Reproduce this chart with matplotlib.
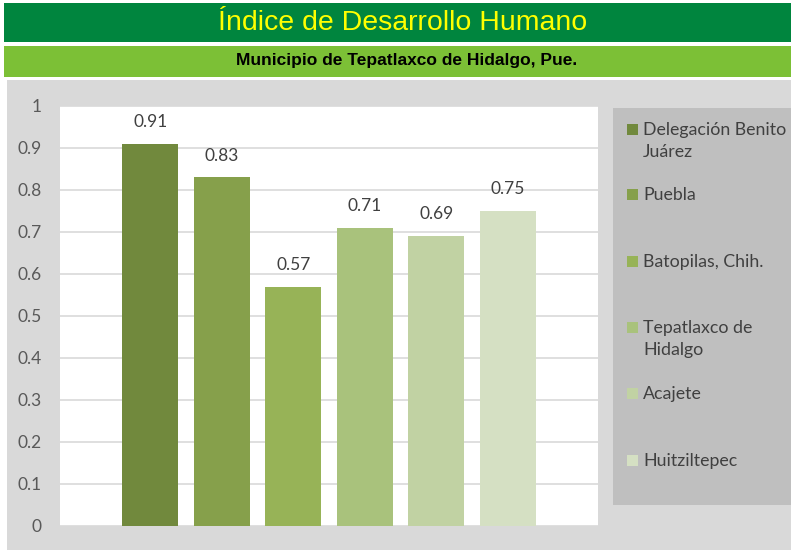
import matplotlib.pyplot as plt
from matplotlib.patches import Rectangle

# datos
municipios = ["Delegación Benito\nJuárez", "Puebla", "Batopilas, Chih.",
              "Tepatlaxco de\nHidalgo", "Acajete", "Huitziltepec"]
idh = [0.91, 0.83, 0.57, 0.71, 0.69, 0.75]
colores = ["#71893d", "#86a04b", "#97b357", "#a9c27c", "#c1d2a3", "#d5e0c3"]
yticks = [0, 0.1, 0.2, 0.3, 0.4, 0.5, 0.6, 0.7, 0.8, 0.9, 1]

W, H = 791, 550
fig = plt.figure(figsize=(W / 100, H / 100), dpi=100)
fig.patch.set_facecolor("white")

def caja(x0, y0, x1, y1, color):
    # coordenadas en pixeles, y desde arriba
    fig.patches.append(Rectangle((x0 / W, 1 - y1 / H), (x1 - x0) / W, (y1 - y0) / H,
                                 transform=fig.transFigure, facecolor=color,
                                 edgecolor="none", zorder=0))

caja(4, 3, 791, 42, "#00853e")
caja(4, 46, 791, 77, "#7cc036")
caja(7, 80, 791, 550, "#d9d9d9")
caja(613, 108, 791, 505, "#bfbfbf")

narrow = ["Liberation Sans Narrow", "Liberation Sans", "DejaVu Sans"]
fig.text(403 / W, 1 - 23 / H, "Índice de Desarrollo Humano", ha="center", va="center",
         color="#ffff00", fontsize=20.5, family=narrow)
fig.text(407 / W, 1 - 61 / H, "Municipio de Tepatlaxco de Hidalgo, Pue.", ha="center",
         va="center", color="black", fontsize=12.5, fontweight="bold", family=narrow)

ax = fig.add_axes([60 / W, 1 - 526 / H, (598 - 60) / W, (526 - 106) / H])
ax.set_zorder(5)
ax.set_facecolor("white")
x = range(len(idh))
ax.bar(x, idh, width=0.78, color=colores, zorder=3)
ax.set_xlim(-1.26, len(idh) - 1 + 1.26)
ax.set_ylim(0, 1)
ax.set_yticks(yticks)
ax.set_yticklabels([f"{v:g}" for v in yticks])
ax.grid(axis="y", color="#d9d9d9", linewidth=1.2, zorder=0)
ax.set_xticks([])
for s in ax.spines.values():
    s.set_visible(False)
ax.tick_params(axis="y", length=0, pad=13, labelsize=12.5, labelcolor="#595959")
for lab in ax.get_yticklabels():
    lab.set_family(["Lato", "DejaVu Sans"])

for i, v in enumerate(idh):
    ax.annotate(f"{v:g}", (i, v), xytext=(0, 10), textcoords="offset points",
                ha="center", va="bottom", fontsize=12.5, color="#404040",
                family=["Lato", "DejaVu Sans"])

# leyenda
ys = [130, 195, 262, 328, 394, 461]
for nombre, c, y in zip(municipios, colores, ys):
    fig.patches.append(Rectangle((627 / W, 1 - (y + 5) / H), 11 / W, 11 / H,
                                 transform=fig.transFigure, facecolor=c,
                                 edgecolor="none", zorder=2))
    fig.text(643 / W, 1 - (y - 8) / H, nombre, ha="left", va="top", fontsize=12.8,
             color="#404040", family=["Lato", "DejaVu Sans"], linespacing=1.45)

fig.savefig("out.png", dpi=100)
